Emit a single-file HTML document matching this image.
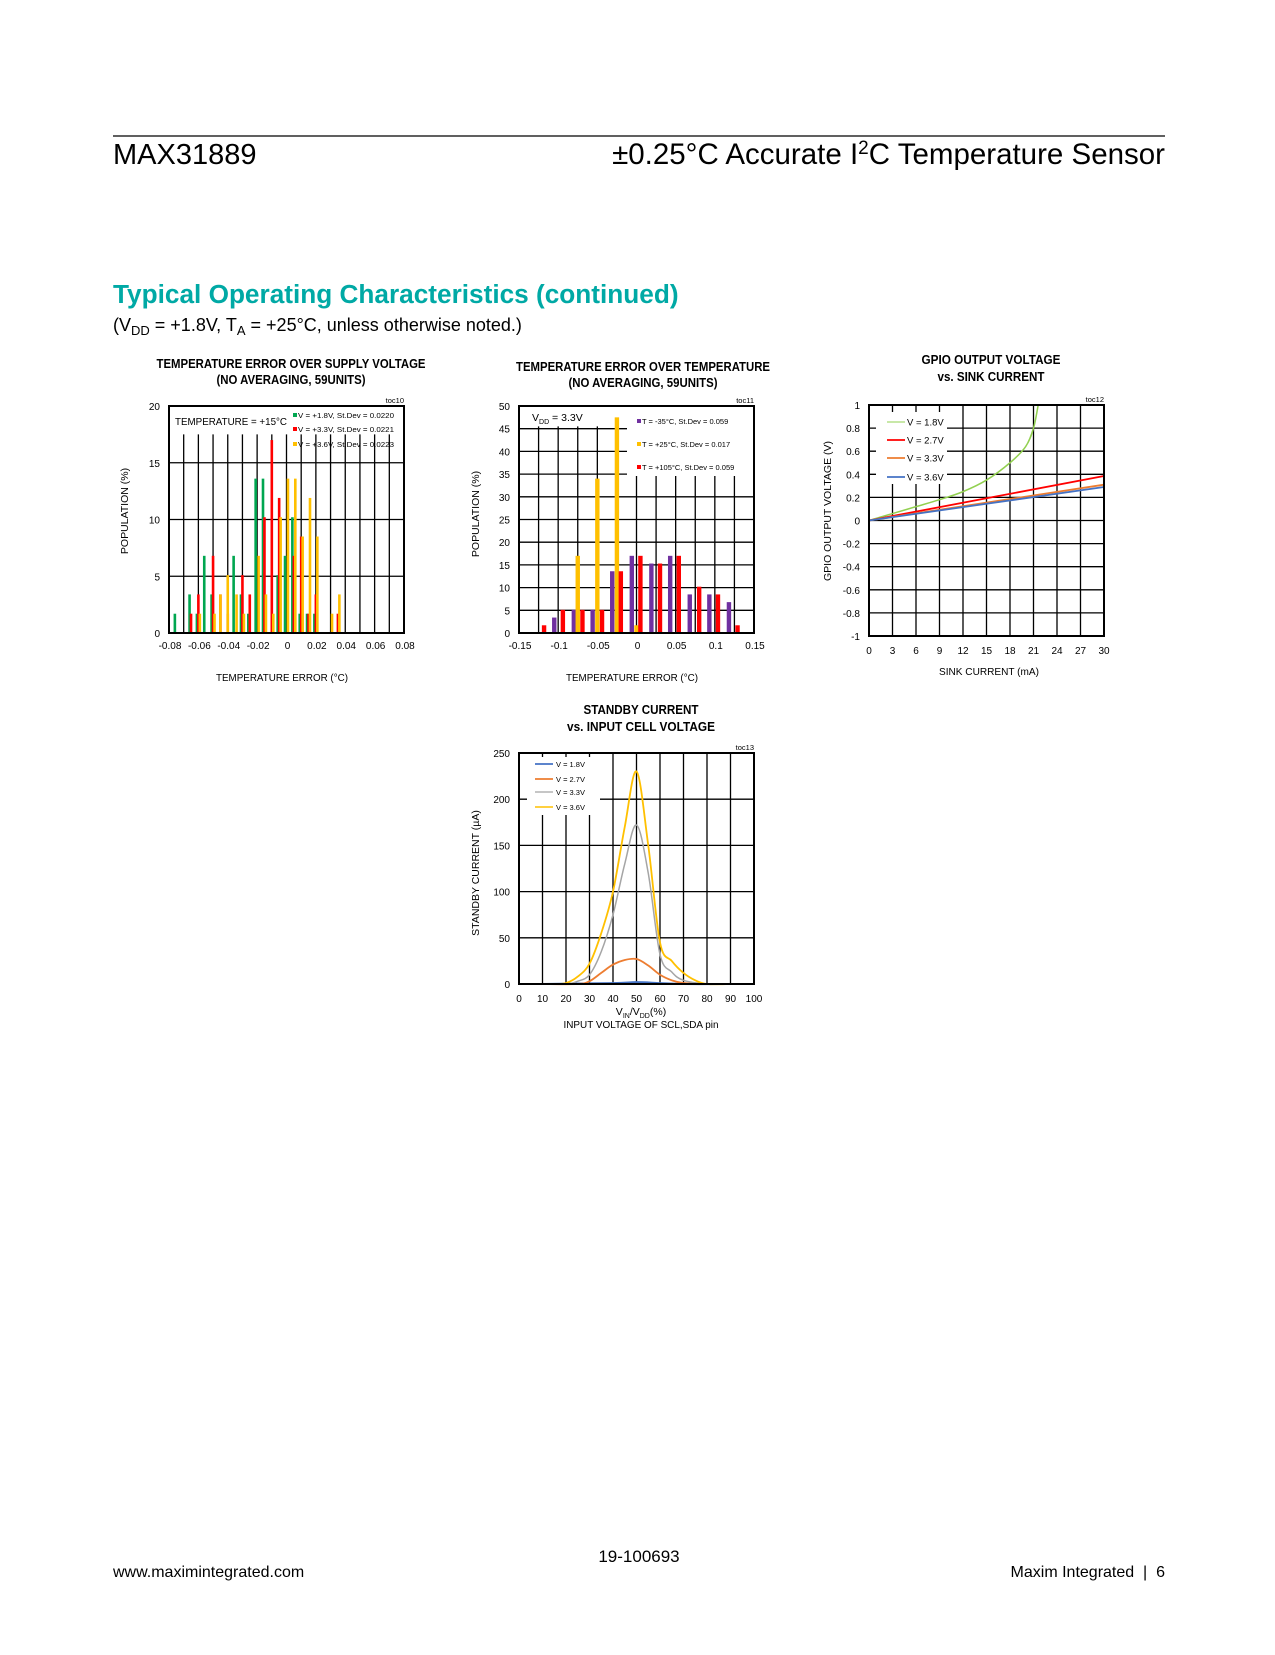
<!DOCTYPE html>
<html><head><meta charset="utf-8"><style>
html,body{margin:0;padding:0;background:#fff}
svg text{font-family:"Liberation Sans Narrow","Liberation Sans",Arial,sans-serif}
</style></head><body>
<svg id="page" width="1275" height="1650" viewBox="0 0 1275 1650" xmlns="http://www.w3.org/2000/svg">
<line x1="113" y1="136" x2="1165" y2="136" stroke="#000" stroke-width="1.2"/>
<text x="113" y="164" font-size="29" font-family="Liberation Sans">MAX31889</text>
<text x="1165" y="164" font-size="29.5" text-anchor="end" font-family="Liberation Sans">±0.25°C Accurate I<tspan dy="-10" font-size="19">2</tspan><tspan dy="10">C Temperature Sensor</tspan></text>
<text x="113" y="303" font-size="26.2" font-weight="bold" fill="#00a9a5" font-family="Liberation Sans">Typical Operating Characteristics (continued)</text>
<text x="113" y="331" font-size="18" font-family="Liberation Sans">(V<tspan font-size="13" dy="4">DD</tspan><tspan dy="-4"> = +1.8V, T</tspan><tspan font-size="13" dy="4">A</tspan><tspan dy="-4"> = +25°C, unless otherwise noted.)</tspan></text>
<text x="639" y="1562" font-size="17" text-anchor="middle" font-family="Liberation Sans">19-100693</text>
<text x="113" y="1577" font-size="16" font-family="Liberation Sans">www.maximintegrated.com</text>
<text x="1165" y="1577" font-size="16" text-anchor="end" font-family="Liberation Sans" xml:space="preserve" style="white-space:pre">Maxim Integrated  |  6</text>
<g id="g1"></g>
<g id="g2"></g>
<g id="g3"></g>
<g id="g4"></g>
</svg>
<script>
// ---- Chart 1 data ----
const c1Ticks = [-0.08,-0.06,-0.04,-0.02,0,0.02,0.04,0.06,0.08];
const c1TickLabels = ["-0.08","-0.06","-0.04","-0.02","0","0.02","0.04","0.06","0.08"];
const c1YTicks = [0,5,10,15,20];
const c1GreenX = [-0.076,-0.066,-0.061,-0.056,-0.051,-0.036,-0.031,-0.026,-0.021,-0.016,-0.006,-0.001,0.004,0.009,0.014,0.019];
const c1GreenY = [1.7,3.4,1.7,6.8,3.4,6.8,3.4,1.7,13.6,13.6,5.1,6.8,10.2,1.7,1.7,1.7];
const c1RedX = [-0.065,-0.060,-0.050,-0.045,-0.040,-0.030,-0.025,-0.015,-0.010,-0.005,0.005,0.010,0.015,0.020,0.035];
const c1RedY = [1.7,3.4,6.8,3.4,1.7,5.1,3.4,10.2,17,11.9,6.8,8.5,1.7,3.4,1.7];
const c1YellowX = [-0.059,-0.049,-0.045,-0.040,-0.034,-0.029,-0.019,-0.014,-0.009,-0.004,0.001,0.006,0.011,0.016,0.021,0.031,0.036];
const c1YellowY = [1.7,1.7,3.4,5.1,3.4,1.7,6.8,3.4,1.7,10.2,13.6,13.6,8.5,11.9,8.5,1.7,3.4];
// ---- Chart 2 data ----
const c2Ticks = [-0.15,-0.1,-0.05,0,0.05,0.1,0.15];
const c2TickLabels = ["-0.15","-0.1","-0.05","0","0.05","0.1","0.15"];
const c2YTicks = [0,5,10,15,20,25,30,35,40,45,50];
const c2PurpleX = [-0.105,-0.080,-0.056,-0.031,-0.006,0.019,0.043,0.068,0.093,0.118];
const c2PurpleY = [3.4,5.1,5.1,13.6,17,15.3,17,8.5,8.5,6.8];
const c2YellowX = [-0.075,-0.050,-0.025,0.0];
const c2YellowY = [17,34,47.5,1.7];
const c2RedX = [-0.118,-0.094,-0.069,-0.044,-0.020,0.005,0.030,0.054,0.080,0.104,0.129];
const c2RedY = [1.7,5.1,5.1,5.1,13.6,17,15.3,17,10.2,8.5,1.7];
// ---- Chart 3 data ----
const c3Ticks = [0,3,6,9,12,15,18,21,24,27,30];
const c3YTicks = [-1,-0.8,-0.6,-0.4,-0.2,0,0.2,0.4,0.6,0.8,1];
const c3YLabels = ["-1","-0.8","-0.6","-0.4","-0.2","0","0.2","0.4","0.6","0.8","1"];
const c3V18X = [0,3,6,9,12,15,18,20,21,21.6];
const c3V18Y = [0,0.06,0.12,0.18,0.25,0.35,0.5,0.64,0.8,1.0];
const c3V27X = [0,30]; const c3V27Y = [0,0.385];
const c3V33X = [0,30]; const c3V33Y = [0,0.31];
const c3V36X = [0,30]; const c3V36Y = [0,0.29];
// ---- Chart 4 data ----
const c4Ticks = [0,10,20,30,40,50,60,70,80,90,100];
const c4YTicks = [0,50,100,150,200,250];
const c4V36X = [10,15,20,25,30,35,40,45,50,55,60,65,70,75,80,90];
const c4V36Y = [0,0,1,8,22,55,100,170,230,150,45,25,12,4,0,0];
const c4V33X = [10,20,25,30,35,40,45,50,55,60,65,70,80,90];
const c4V33Y = [0,0,3,10,35,75,130,172,120,32,13,4,0,0];
const c4V27X = [10,25,30,35,40,45,50,55,60,65,70,80,90];
const c4V27Y = [0,0,3,12,21,26,27,20,10,4,1,0,0];
const c4V18X = [10,40,50,60,70,90];
const c4V18Y = [0,1,2,1,0,0];

const NS="http://www.w3.org/2000/svg";
function mk(parent,tag,attrs){const e=document.createElementNS(NS,tag);for(const k in attrs)e.setAttribute(k,attrs[k]);parent.appendChild(e);return e;}
function txt(parent,x,y,s,size,anchor,weight){const t=mk(parent,'text',{x:x,y:y,'font-size':size,'text-anchor':anchor||'start'});if(weight)t.setAttribute('font-weight',weight);t.textContent=s;return t;}
function fit(t,len){t.setAttribute('textLength',len);t.setAttribute('lengthAdjust','spacingAndGlyphs');}
function scale(d0,d1,r0,r1){return v=>r0+(v-d0)/(d1-d0)*(r1-r0);}
function smooth(pts){let d='M'+pts[0][0]+','+pts[0][1];for(let i=0;i<pts.length-1;i++){const p0=pts[i-1]||pts[i],p1=pts[i],p2=pts[i+1],p3=pts[i+2]||p2;const c1=[p1[0]+(p2[0]-p0[0])/6,p1[1]+(p2[1]-p0[1])/6],c2=[p2[0]-(p3[0]-p1[0])/6,p2[1]-(p3[1]-p1[1])/6];d+=' C'+c1[0]+','+c1[1]+' '+c2[0]+','+c2[1]+' '+p2[0]+','+p2[1];}return d;}

// ===== Chart 1 =====
(function(){
const g=document.getElementById('g1');
const L=169,R=404,T=406,B=633;const X=scale(-0.08,0.08,L,R),Y=scale(0,20,B,T);
let t=txt(g,291,368,'TEMPERATURE ERROR OVER SUPPLY VOLTAGE',12.5,'middle','bold');fit(t,269);


t=txt(g,291,384,'(NO AVERAGING, 59UNITS)',12.5,'middle','bold');fit(t,149);


t=txt(g,404,403,'toc10',7.5,'end');


for(let v=-0.07;v<0.075;v+=0.01){const l=mk(g,'line',{x1:X(v),x2:X(v),y1:Y(17.5),y2:B,stroke:'#000','stroke-width':1.3});

}
c1YTicks.forEach(v=>{if(v>0&&v<20){const l=mk(g,'line',{x1:L,x2:R,y1:Y(v),y2:Y(v),stroke:'#000','stroke-width':1.3});

}
const tl=txt(g,L-9,Y(v)+4,String(v),10,'end');

});
c1Ticks.forEach((v,i)=>{const tl=txt(g,X(v)+1,649,c1TickLabels[i],10,'middle');

});
function bars(xs,ys,col,name){xs.forEach((v,i)=>{const r=mk(g,'rect',{x:X(v)-1.3,y:Y(ys[i]),width:2.6,height:B-Y(ys[i]),fill:col});

});}
bars(c1GreenX,c1GreenY,'#00a650','bar-1v8');
bars(c1RedX,c1RedY,'#ff0000','bar-3v3');
bars(c1YellowX,c1YellowY,'#ffc000','bar-3v6');
const bx=mk(g,'rect',{x:L,y:T,width:R-L,height:B-T,fill:'none',stroke:'#000','stroke-width':2});


t=txt(g,175,425,'TEMPERATURE = +15°C',10.5);fit(t,112);


const leg=[['#00a650','V = +1.8V, St.Dev = 0.0220',417],['#ff0000','V = +3.3V, St.Dev = 0.0221',431],['#ffc000','V = +3.6V, St.Dev = 0.0223',446]];
leg.forEach(e=>{const s=mk(g,'rect',{x:293,y:e[2]-4,width:4,height:4,fill:e[0]});


const lt=txt(g,298,e[2]+1,e[1],7.5);fit(lt,96);

});
t=txt(g,0,0,'POPULATION (%)',10.5,'middle');t.setAttribute('transform','translate(128,511) rotate(-90)');


t=txt(g,282,681,'TEMPERATURE ERROR (°C)',10.5,'middle');fit(t,132);


})();

// ===== Chart 2 =====
(function(){
const g=document.getElementById('g2');
const L=519,R=754,T=406,B=633;const X=scale(-0.15,0.15,L,R),Y=scale(0,50,B,T);
let t=txt(g,643,371,'TEMPERATURE ERROR OVER TEMPERATURE',12.5,'middle','bold');fit(t,254);


t=txt(g,643,387,'(NO AVERAGING, 59UNITS)',12.5,'middle','bold');fit(t,149);


t=txt(g,754,403,'toc11',7.5,'end');


for(let v=-0.125;v<0.13;v+=0.025){const l=mk(g,'line',{x1:X(v),x2:X(v),y1:Y(45.5),y2:B,stroke:'#000','stroke-width':1.3});

}
c2YTicks.forEach(v=>{if(v>0&&v<50){const l=mk(g,'line',{x1:L,x2:R,y1:Y(v),y2:Y(v),stroke:'#000','stroke-width':1.3});

}
const tl=txt(g,L-9,Y(v)+4,String(v),10,'end');

});
c2Ticks.forEach((v,i)=>{const tl=txt(g,X(v)+1,649,c2TickLabels[i],10,'middle');

});
const lb=mk(g,'rect',{x:627,y:410,width:126,height:66,fill:'#fff'});


function bars(xs,ys,col,name){xs.forEach((v,i)=>{const r=mk(g,'rect',{x:X(v)-2.2,y:Y(ys[i]),width:4.4,height:B-Y(ys[i]),fill:col});

});}
bars(c2PurpleX,c2PurpleY,'#7030a0','bar-minus35c');
bars(c2YellowX,c2YellowY,'#ffc000','bar-25c');
bars(c2RedX,c2RedY,'#ff0000','bar-105c');
const bx=mk(g,'rect',{x:L,y:T,width:R-L,height:B-T,fill:'none',stroke:'#000','stroke-width':2});


t=mk(g,'text',{x:532,y:421,'font-size':10.5});t.innerHTML='V<tspan font-size="7" dy="3">DD</tspan><tspan dy="-3"> = 3.3V</tspan>';


const leg=[['#7030a0','T = -35°C, St.Dev = 0.059',423],['#ffc000','T = +25°C, St.Dev = 0.017',446],['#ff0000','T = +105°C, St.Dev = 0.059',469]];
leg.forEach(e=>{const s=mk(g,'rect',{x:637,y:e[2]-4,width:4,height:4,fill:e[0]});


const lt=txt(g,642,e[2]+1,e[1],7.5);

});
t=txt(g,0,0,'POPULATION (%)',10.5,'middle');t.setAttribute('transform','translate(479,514) rotate(-90)');


t=txt(g,632,681,'TEMPERATURE ERROR (°C)',10.5,'middle');fit(t,132);


})();

// ===== Chart 3 =====
(function(){
const g=document.getElementById('g3');
const L=869,R=1104,T=405,B=636;const X=scale(0,30,L,R),Y=scale(-1,1,B,T);
let t=txt(g,991,364,'GPIO OUTPUT VOLTAGE',12.5,'middle','bold');fit(t,139);


t=txt(g,991,381,'vs. SINK CURRENT',12.5,'middle','bold');fit(t,107);


t=txt(g,1104,402,'toc12',7.5,'end');


c3Ticks.forEach(v=>{if(v>0&&v<30){const l=mk(g,'line',{x1:X(v),x2:X(v),y1:T,y2:B,stroke:'#000','stroke-width':1.3});

}
const tl=txt(g,X(v),654,String(v),10,'middle');

});
c3YTicks.forEach((v,i)=>{if(i>0&&i<c3YTicks.length-1){const l=mk(g,'line',{x1:L,x2:R,y1:Y(v),y2:Y(v),stroke:'#000','stroke-width':1.3});

}
const tl=txt(g,L-9,Y(v)+4,c3YLabels[i],10,'end');

});
const lb=mk(g,'rect',{x:876,y:412,width:71,height:72,fill:'#fff'});


function line(xs,ys,col,w,name){const p=mk(g,'path',{d:smooth(xs.map((v,i)=>[X(v),Y(ys[i])])),fill:'none',stroke:col,'stroke-width':w});

}
line(c3V18X,c3V18Y,'#92d050',1.5,'line-1v8');
line(c3V27X,c3V27Y,'#ff0000',1.8,'line-2v7');
line(c3V33X,c3V33Y,'#ed7d31',1.8,'line-3v3');
line(c3V36X,c3V36Y,'#4472c4',1.8,'line-3v6');
const bx=mk(g,'rect',{x:L,y:T,width:R-L,height:B-T,fill:'none',stroke:'#000','stroke-width':2});


const leg=[['#92d050','V = 1.8V',422,1],['#ff0000','V = 2.7V',440,1.8],['#ed7d31','V = 3.3V',458,1.8],['#4472c4','V = 3.6V',477,1.8]];
leg.forEach(e=>{const s=mk(g,'line',{x1:887,x2:905,y1:e[2],y2:e[2],stroke:e[0],'stroke-width':e[3]});


const lt=txt(g,907,e[2]+3.5,e[1],9.5);

});
t=txt(g,0,0,'GPIO OUTPUT VOLTAGE (V)',10.5,'middle');t.setAttribute('transform','translate(831,511) rotate(-90)');


t=txt(g,989,675,'SINK CURRENT (mA)',10.5,'middle');fit(t,100);


})();

// ===== Chart 4 =====
(function(){
const g=document.getElementById('g4');
const L=519,R=754,T=753,B=984;const X=scale(0,100,L,R),Y=scale(0,250,B,T);
let t=txt(g,641,714,'STANDBY CURRENT',12.5,'middle','bold');fit(t,115);


t=txt(g,641,731,'vs. INPUT CELL VOLTAGE',12.5,'middle','bold');fit(t,148);


t=txt(g,754,750,'toc13',7.5,'end');


c4Ticks.forEach(v=>{if(v>0&&v<100){const l=mk(g,'line',{x1:X(v),x2:X(v),y1:T,y2:B,stroke:'#000','stroke-width':1.3});

}
const tl=txt(g,X(v),1002,String(v),10,'middle');

});
c4YTicks.forEach(v=>{if(v>0&&v<250){const l=mk(g,'line',{x1:L,x2:R,y1:Y(v),y2:Y(v),stroke:'#000','stroke-width':1.3});

}
const tl=txt(g,L-9,Y(v)+4,String(v),10,'end');

});
const lb=mk(g,'rect',{x:527,y:757,width:73,height:58,fill:'#fff'});


function line(xs,ys,col,w,name){const p=mk(g,'path',{d:smooth(xs.map((v,i)=>[X(v),Y(ys[i])])),fill:'none',stroke:col,'stroke-width':w});

}
line(c4V18X,c4V18Y,'#4472c4',2,'line-1v8');
line(c4V27X,c4V27Y,'#ed7d31',1.8,'line-2v7');
line(c4V33X,c4V33Y,'#a5a5a5',1.5,'line-3v3');
line(c4V36X,c4V36Y,'#ffc000',1.8,'line-3v6');
const bx=mk(g,'rect',{x:L,y:T,width:R-L,height:B-T,fill:'none',stroke:'#000','stroke-width':2});


const leg=[['#4472c4','V = 1.8V',764,1.8],['#ed7d31','V = 2.7V',779,1.8],['#a5a5a5','V = 3.3V',792,1.2],['#ffc000','V = 3.6V',807,1.5]];
leg.forEach(e=>{const s=mk(g,'line',{x1:535,x2:553,y1:e[2],y2:e[2],stroke:e[0],'stroke-width':e[3]});


const lt=txt(g,556,e[2]+3,e[1],7.5);

});
t=txt(g,0,0,'STANDBY CURRENT (µA)',10.5,'middle');t.setAttribute('transform','translate(479,873) rotate(-90)');


t=mk(g,'text',{x:641,y:1015,'font-size':10.5,'text-anchor':'middle'});t.innerHTML='V<tspan font-size="7" dy="3">IN</tspan><tspan dy="-3">/V</tspan><tspan font-size="7" dy="3">DD</tspan><tspan dy="-3">(%)</tspan>';


t=txt(g,641,1028,'INPUT VOLTAGE OF SCL,SDA pin',10.5,'middle');fit(t,155);


})();
</script>
</body></html>
